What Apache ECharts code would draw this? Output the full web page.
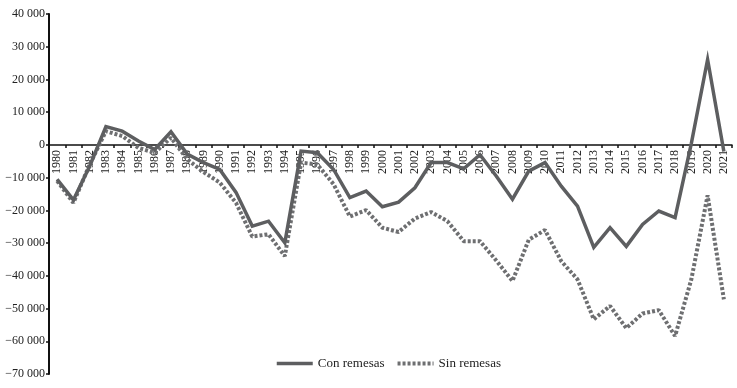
<!DOCTYPE html>
<html>
<head>
<meta charset="utf-8">
<script src="https://cdn.jsdelivr.net/npm/echarts@6/dist/echarts.min.js"></script>
<style>html,body{margin:0;padding:0;background:#fff}#c{width:737px;height:388px}</style>
</head>
<body>
<div id="c"></div>
<script>
var years = ['1980','1981','1982','1983','1984','1985','1986','1987','1988','1989','1990','1991','1992','1993','1994','1995','1996','1997','1998','1999','2000','2001','2002','2003','2004','2005','2006','2007','2008','2009','2010','2011','2012','2013','2014','2015','2016','2017','2018','2019','2020','2021'];
var conRemesas = [-10500,-16800,-6500,5600,4200,1200,-1400,4000,-2800,-5400,-7500,-14500,-24800,-23300,-29900,-1900,-2400,-7500,-16100,-14100,-18900,-17500,-13100,-5400,-5400,-7300,-3000,-9500,-16600,-8000,-5400,-12600,-18700,-31300,-25300,-31000,-24300,-20200,-22200,500,26100,-2000];
var sinRemesas = [-11000,-17700,-6000,4200,2700,-900,-2400,2200,-4400,-8300,-11500,-17700,-28000,-27300,-34000,-5400,-6000,-12000,-21900,-19900,-25300,-26600,-22500,-20500,-23300,-29400,-29400,-35300,-41600,-29000,-26000,-35500,-41100,-53300,-49200,-56000,-51500,-50500,-58400,-41100,-15400,-47200];
var seriesNames = ['Con remesas','Sin remesas'];
var yMin = -70000, yMax = 40000;

function fmt(v){
  var s = Math.abs(v).toString().replace(/\B(?=(\d{3})+(?!\d))/g,' ');
  return (v < 0 ? '\u2212' : '') + s;
}
var font = 'Liberation Serif';
var H = 388, gTop = 14, gBottom = 14;
var gridH = H - gTop - gBottom;
var zeroFromBottom = (0 - yMin) / (yMax - yMin) * gridH;

var chart = echarts.init(document.getElementById('c'), null, {renderer:'canvas'});
chart.setOption({
  animation:false,
  backgroundColor:'#ffffff',
  textStyle:{fontFamily:font},
  grid:{left:49,right:5,top:gTop,bottom:gBottom,containLabel:false,outerBoundsMode:'none'},
  legend:{
    data:[
      {name:seriesNames[0],lineStyle:{width:3.5}},
      {name:seriesNames[1],lineStyle:{width:4}}
    ],
    bottom:13,
    left:270,
    itemWidth:36,
    itemHeight:10,
    itemGap:11,
    itemStyle:{opacity:0},
    textStyle:{fontFamily:font,fontSize:13,color:'#222'}
  },
  xAxis:{
    type:'category',
    data:years,
    boundaryGap:true,
    offset:-zeroFromBottom,
    axisLine:{onZero:false,lineStyle:{color:'#111',width:1.5}},
    axisTick:{show:true,length:3,lineStyle:{color:'#111',width:1.5}},
    axisLabel:{rotate:90,interval:0,fontFamily:font,fontSize:12,color:'#222',margin:5}
  },
  yAxis:{
    type:'value',
    min:yMin,max:yMax,interval:10000,
    splitLine:{show:false},
    axisLine:{show:true,lineStyle:{color:'#111',width:2}},
    axisTick:{show:true,length:3,lineStyle:{color:'#111',width:1.5}},
    axisLabel:{formatter:fmt,fontFamily:font,fontSize:12,color:'#222',margin:4}
  },
  series:[
    {name:seriesNames[0],type:'line',data:conRemesas,showSymbol:false,symbol:'none',
     lineStyle:{color:'#5d5e60',width:3.5,join:'miter'},itemStyle:{color:'#5d5e60'},z:3},
    {name:seriesNames[1],type:'line',data:sinRemesas,showSymbol:false,symbol:'none',
     lineStyle:{color:'#6e6f71',width:4,type:[3,2]},itemStyle:{color:'#6e6f71'},z:2}
  ]
});
</script>
</body>
</html>
